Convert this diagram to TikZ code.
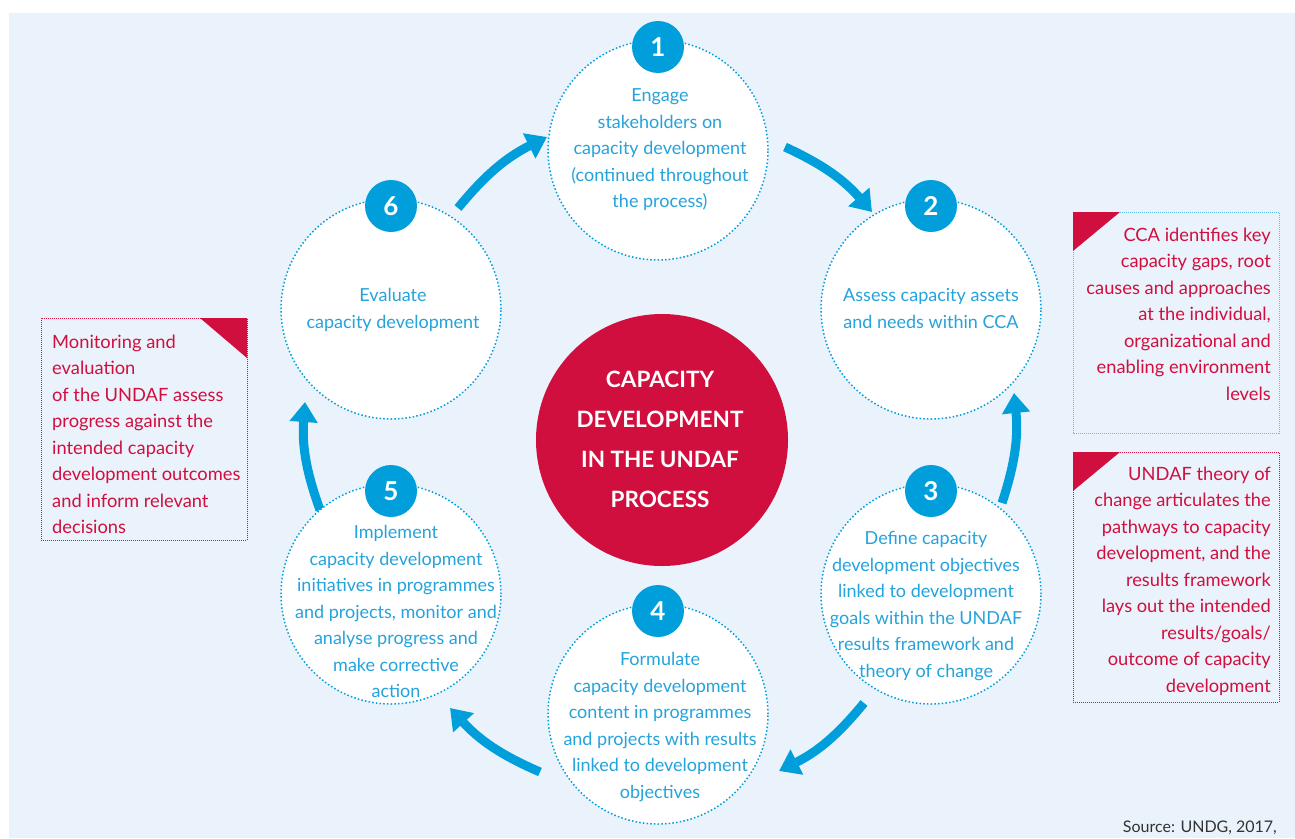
\documentclass[tikz,border=0pt]{standalone}
\usepackage{fontspec}
\setmainfont{Lato}
\usetikzlibrary{arrows.meta}

\definecolor{bgblue}{HTML}{EAF3FB}
\definecolor{undafblue}{HTML}{009FDB}
\definecolor{txtblue}{HTML}{25A3DC}
\definecolor{undafred}{HTML}{D10F3F}
\definecolor{boxblue}{HTML}{62C0E8}

\begin{document}
\begin{tikzpicture}[x=1pt,y=-1pt,
	stage/.style={circle,draw=undafblue,fill=white,line width=1.5pt,dash pattern=on 1.5pt off 2.2pt,minimum size=220pt,inner sep=0pt},
	badge/.style={circle,fill=undafblue,text=white,minimum size=52pt,inner sep=0pt,font=\fontsize{26}{30}\selectfont\bfseries},
	stagetext/.style={anchor=north,align=center,inner sep=0pt,text=txtblue,font=\fontsize{18}{26.5}\selectfont},
	notetext/.style={anchor=north east,align=right,inner sep=0pt,text=undafred,font=\fontsize{18.3}{26.5}\selectfont},
	flow/.style={draw=undafblue,line width=9pt,-{Triangle[length=20pt,width=27pt]}},
	notebox/.style={line width=1pt,dash pattern=on 1pt off 1pt}]
\useasboundingbox (0,0) rectangle (1295,838);
\fill[white] (0,0) rectangle (1295,838);
\fill[bgblue] (9,13) rectangle (1295,838);

\coordinate (a1s) at (458,208);
\coordinate (a1e) at (547,137);
\coordinate (a2s) at (785,147);
\coordinate (a2e) at (872,212);
\coordinate (a3s) at (1002,503);
\coordinate (a3e) at (1014,393);
\coordinate (a4s) at (864,703);
\coordinate (a4e) at (779,771);
\coordinate (a5s) at (540,772);
\coordinate (a5e) at (450,708);
\coordinate (a6s) at (320,510);
\coordinate (a6e) at (305,402);
\draw[flow] (a1s) to[bend left=12] (a1e);
\draw[flow] (a2s) to[bend left=12] (a2e);
\draw[flow] (a3s) to[bend right=12] (a3e);
\draw[flow] (a4s) to[bend left=12] (a4e);
\draw[flow] (a5s) to[bend left=12] (a5e);
\draw[flow] (a6s) to[bend left=12] (a6e);

\node[stage] (1) at (658,150) {};
\node[stage] (2) at (931,309) {};
\node[stage] (3) at (931,594) {};
\node[stage] (4) at (658,714) {};
\node[stage] (5) at (391,594) {};
\node[stage] (6) at (391,309) {};
\node[badge] (n1) at (658,47) {1};
\node[badge] (n2) at (931,206) {2};
\node[badge] (n3) at (931,491) {3};
\node[badge] (n4) at (658,611) {4};
\node[badge] (n5) at (391,491) {5};
\node[badge] (n6) at (391,206) {6};

\node[stagetext] (t1) at (660,88.5) {Engage\\stakeholders on\\capacity development\\(continued throughout\\the process)};
\node[stagetext] (t2) at (931,288.5) {Assess capacity assets\\and needs within CCA};
\node[stagetext] (t3) at (926,531.5) {Define capacity\\development objectives\\linked to development\\goals within the UNDAF\\results framework and\\theory of change};
\node[stagetext] (t4) at (660,652.5) {Formulate\\capacity development\\content in programmes\\and projects with results\\linked to development\\objectives};
\node[stagetext] (t5) at (396,525.5) {Implement\\capacity development\\initiatives in programmes\\and projects, monitor and\\analyse progress and\\make corrective\\action};
\node[stagetext] (t6) at (393,288.5) {Evaluate\\capacity development};

\node[circle,fill=undafred,minimum size=252pt,inner sep=0pt] (0) at (662,440) {};
\node[anchor=north,align=center,inner sep=0pt,text=white,font=\fontsize{22.5}{40}\selectfont\bfseries] (t0) at (660,371) {CAPACITY\\DEVELOPMENT\\IN THE UNDAF\\PROCESS};

\draw[notebox,draw=undafred] (41,318) rectangle (247,540);
\fill[undafred] (200,318) -- (247,318) -- (247,358) -- cycle;
\node[notetext,anchor=north west,align=left] (m) at (52,334.5) {Monitoring and\\evaluation\\of the UNDAF assess\\progress against the\\intended capacity\\development outcomes\\and inform relevant\\decisions};

\draw[notebox,draw=boxblue] (1073,212) rectangle (1279,433);
\fill[undafred] (1073,212) -- (1120,212) -- (1073,251) -- cycle;
\node[notetext] (c) at (1271,227.5) {CCA identifies key\\capacity gaps, root\\causes and approaches\\at the individual,\\organizational and\\enabling environment\\levels};

\draw[notebox,draw=undafred] (1073,452) rectangle (1279,702);
\fill[undafred] (1073,452) -- (1120,452) -- (1073,491) -- cycle;
\node[notetext] (u) at (1271,466.5) {UNDAF theory of\\change articulates the\\pathways to capacity\\development, and the\\results framework\\lays out the intended\\results/goals/\\outcome of capacity\\development};

\node[anchor=base east,inner sep=0pt,text=black!80,font=\fontsize{16}{20}\selectfont] (src) at (1277,832) {Source: UNDG, 2017,};
\end{tikzpicture}
\end{document}
